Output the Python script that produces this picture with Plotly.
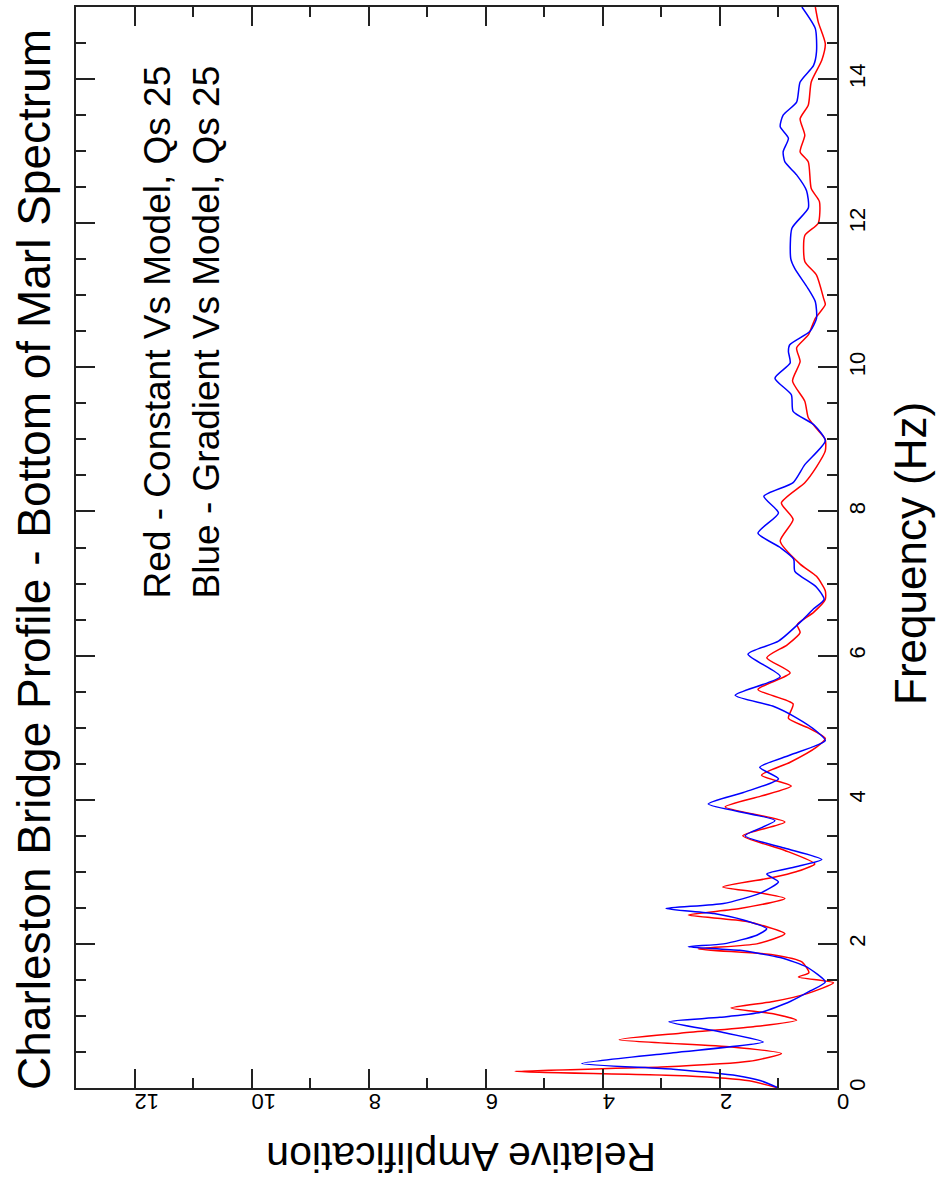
import plotly.graph_objects as go

# Frequency (Hz) and relative amplification
red_freq = [0, 0.1, 0.17, 0.23, 0.29, 0.37, 0.48, 0.57, 0.67, 0.76, 0.85, 0.94, 1.03, 1.11,
            1.2, 1.31, 1.46, 1.54, 1.6, 1.75, 1.85, 1.93, 2.0, 2.14, 2.31, 2.40, 2.49, 2.63,
            2.72, 2.79, 2.92, 3.0, 3.11, 3.3, 3.50, 3.69, 3.90, 4.05, 4.19, 4.34, 4.52, 4.73,
            4.85, 5.0, 5.13, 5.33, 5.53, 5.76, 5.97, 6.15, 6.32, 6.43, 6.6, 6.78, 6.9, 7.1,
            7.27, 7.59, 7.89, 8.12, 8.4, 8.62, 8.84, 9.0, 9.15, 9.3, 9.53, 9.81, 10.08, 10.27,
            10.45, 10.68, 10.87, 10.96, 11.28, 11.47, 11.83, 12.0, 12.3, 12.48, 12.85, 12.99,
            13.22, 13.45, 13.64, 13.96, 14.26, 14.49, 14.79, 15.0]
red_amp = [1.0, 1.5, 2.6, 5.5, 3.0, 1.5, 0.95, 1.8, 3.72, 2.68, 1.43, 0.69, 1.09, 1.81,
           1.09, 0.51, 0.06, 0.66, 0.48, 0.6, 1.1, 2.37, 1.37, 0.89, 1.54, 2.54, 1.66, 0.89,
           1.4, 1.95, 1.1, 0.7, 0.38, 0.9, 1.61, 0.89, 1.91, 1.3, 0.78, 1.29, 0.8, 0.35,
           0.2, 0.5, 0.83, 0.75, 1.35, 0.8, 1.2, 0.85, 0.63, 0.68, 0.4, 0.2, 0.2, 0.35,
           0.63, 0.97, 0.75, 0.95, 0.55, 0.35, 0.2, 0.2, 0.35, 0.49, 0.55, 0.76, 0.63, 0.69,
           0.49, 0.37, 0.2, 0.23, 0.35, 0.55, 0.55, 0.32, 0.3, 0.44, 0.49, 0.63,
           0.55, 0.63, 0.49, 0.44, 0.26, 0.2, 0.32, 0.37]

blue_freq = [0, 0.1, 0.17, 0.26, 0.34, 0.49, 0.64, 0.78, 0.92, 0.98, 1.05, 1.2, 1.35, 1.47,
             1.68, 1.81, 1.91, 1.96, 2.0, 2.12, 2.21, 2.33, 2.42, 2.49, 2.56, 2.7, 2.86,
             2.97, 3.07, 3.17, 3.33, 3.50, 3.71, 3.94, 4.1, 4.29, 4.45, 4.62, 4.82, 4.95,
             5.14, 5.3, 5.45, 5.71, 6.02, 6.2, 6.5, 6.65, 6.78, 6.95, 7.17, 7.34, 7.5, 7.7,
             7.98, 8.21, 8.4, 8.65, 8.98, 9.2, 9.39, 9.62, 9.85, 10.06, 10.22, 10.31, 10.5,
             10.68, 10.91, 11.1, 11.37, 11.51, 11.93, 12.21, 12.45, 12.67, 12.85, 12.99,
             13.18, 13.34, 13.5, 13.68, 13.96, 14.19, 14.38, 14.7, 15.0]
blue_amp = [1.0, 1.3, 1.7, 2.8, 4.36, 2.8, 1.26, 2.0, 2.87, 2.0, 1.3, 0.8, 0.45, 0.2,
            0.52, 0.97, 1.66, 2.54, 1.94, 1.37, 1.2, 1.6, 2.1, 2.92, 1.94, 1.32, 1.0,
            1.2, 0.7, 0.26, 0.9, 1.57, 1.06, 2.2, 1.6, 1.0, 1.32, 0.8, 0.2, 0.35,
            0.7, 1.1, 1.74, 0.97, 1.52, 1.0, 0.58, 0.4, 0.22, 0.35, 0.72, 0.74, 0.97, 1.35,
            1.0, 1.25, 0.75, 0.55, 0.2, 0.39, 0.75, 0.78, 1.06, 0.8, 0.83, 0.81, 0.46,
            0.35, 0.37, 0.5, 0.72, 0.79, 0.77, 0.49, 0.52, 0.69, 0.89, 0.92,
            0.83, 0.97, 0.92, 0.69, 0.63, 0.4, 0.35, 0.37, 0.6]

amp_ticks = [0, 2, 4, 6, 8, 10, 12]
freq_ticks = [0, 2, 4, 6, 8, 10, 12, 14]

FONT = "Liberation Sans, Arial, sans-serif"

fig = go.Figure()
fig.add_trace(go.Scatter(x=red_amp, y=red_freq, mode="lines",
                         line=dict(color="#ff0000", width=1.5, shape="spline", smoothing=0.6),
                         showlegend=False))
fig.add_trace(go.Scatter(x=blue_amp, y=blue_freq, mode="lines",
                         line=dict(color="#0000ff", width=1.5, shape="spline", smoothing=0.6),
                         showlegend=False))

W, H = 942, 1183
L, R, T, B = 76, 837, 5, 1088


def px(x):
    return (x - L) / (R - L)


def py(y):
    return (B - y) / (B - T)


fig.update_layout(
    width=W, height=H,
    margin=dict(l=L, r=W - R, t=T, b=H - B),
    paper_bgcolor="white", plot_bgcolor="white",
    font=dict(family=FONT, color="black"),
    xaxis=dict(range=[13, 0], tickvals=amp_ticks, ticktext=[str(v) for v in amp_ticks],
               ticks="inside", ticklen=19, tickwidth=2, tickcolor="#222",
               minor=dict(dtick=1, tick0=0, ticks="inside", ticklen=10, tickwidth=2, tickcolor="#222"),
               showline=True, linewidth=2, linecolor="#222", mirror="ticks",
               showgrid=False, zeroline=False, tickangle=180,
               tickfont=dict(size=22, family=FONT, color="black")),
    yaxis=dict(range=[0, 15], tickvals=freq_ticks, ticktext=[str(v) for v in freq_ticks],
               side="right",
               ticks="inside", ticklen=19, tickwidth=2, tickcolor="#222",
               minor=dict(dtick=0.5, tick0=0, ticks="inside", ticklen=10, tickwidth=2, tickcolor="#222"),
               showline=True, linewidth=2, linecolor="#222", mirror="ticks",
               showgrid=False, zeroline=False, tickangle=-90,
               tickfont=dict(size=22, family=FONT, color="black")),
)

annots = [
    dict(text="Charleston Bridge Profile - Bottom of Marl Spectrum", x=px(34), y=py(559),
         textangle=-90, size=46),
    dict(text="Frequency (Hz)", x=px(911), y=py(553), textangle=-90, size=44),
    dict(text="Relative Amplification", x=px(461), y=py(1157), textangle=180, size=41),
    dict(text="Red - Constant Vs Model, Qs 25", x=px(157), y=py(331), textangle=-90, size=37),
    dict(text="Blue - Gradient Vs Model, Qs 25", x=px(206), y=py(331), textangle=-90, size=37),
]
for a in annots:
    fig.add_annotation(text=a["text"], x=a["x"], y=a["y"], xref="paper", yref="paper",
                       xanchor="center", yanchor="middle", showarrow=False,
                       textangle=a["textangle"],
                       font=dict(family=FONT, size=a["size"], color="black"))

fig.write_html("out.html")
